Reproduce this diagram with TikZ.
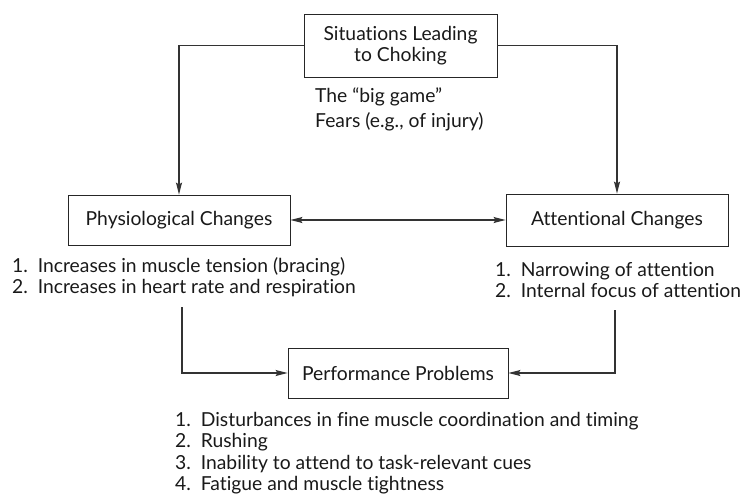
\documentclass[tikz,border=0pt]{standalone}
\usepackage{fontspec}
\setmainfont{Lato}[Ligatures=NoCommon]
\usetikzlibrary{arrows.meta}
\begin{document}
\begin{tikzpicture}[x=1pt, y=-1pt,
    every node/.style = {text=black!90, font=\fontsize{19.3}{21.5}\selectfont},
    box/.style = {draw=black!85, line width=0.8pt, align=center, inner sep=0pt},
    list/.style = {align=left, anchor=north west, inner sep=0pt},
    conn/.style = {draw=black!80, line width=1.2pt, -{Stealth[length=12pt, width=6pt, inset=2pt]}}]
    \useasboundingbox (0,0) rectangle (745,498);
    \node[box, minimum width=193pt, minimum height=63pt] (sit) at (400.5,45.5) {Situations Leading\\to Choking};
    \node[list, font=\fontsize{19.3}{25}\selectfont] (sitlist) at (315,88) {The “big game”\\Fears (e.g., of injury)};
    \node[box, minimum width=222pt, minimum height=50pt] (phys) at (179,220) {Physiological Changes};
    \node[box, minimum width=222pt, minimum height=52pt] (att) at (617,220) {Attentional Changes};
    \node[box, minimum width=220pt, minimum height=50pt] (perf) at (398,373) {Performance Problems};
    \node[list] (physlist) at (12,257) {1.\ \ Increases in muscle tension (bracing)\\2.\ \ Increases in heart rate and respiration};
    \node[list] (attlist) at (495,262) {1.\ \ Narrowing of attention\\2.\ \ Internal focus of attention};
    \node[list] (perflist) at (175,412) {1.\ \ Disturbances in fine muscle coordination and timing\\2.\ \ Rushing\\3.\ \ Inability to attend to task-relevant cues\\4.\ \ Fatigue and muscle tightness};
    \coordinate (p1) at (182,307);
    \coordinate (a1) at (615,310);
    \draw[conn] (sit.west) -| (phys.north);
    \draw[conn] (sit.east) -| (att.north);
    \draw[conn, {Stealth[length=12pt, width=6pt, inset=2pt]}-{Stealth[length=12pt, width=6pt, inset=2pt]}] (phys) -- (att);
    \draw[conn] (p1) |- (perf.west);
    \draw[conn] (a1) |- (perf.east);
\end{tikzpicture}
\end{document}
